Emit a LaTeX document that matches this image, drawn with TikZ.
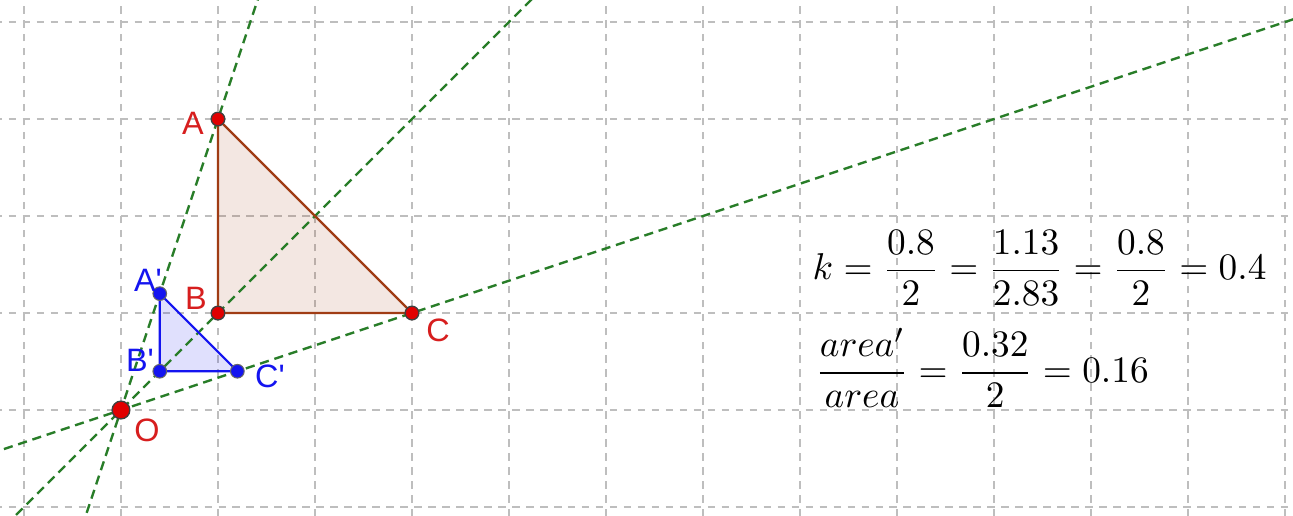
\documentclass[tikz,border=0pt]{standalone}
\usepackage{fontspec}
\usepackage{amsmath}
\usetikzlibrary{calc}
\newfontfamily\labelfont{Liberation Sans}
\definecolor{GridGray}{RGB}{190,190,190}
\definecolor{RayGreen}{RGB}{40,125,40}
\definecolor{PointRed}{RGB}{225,0,0}
\definecolor{LabelRed}{RGB}{215,30,30}
\definecolor{EdgeBrown}{RGB}{160,60,20}
\definecolor{ImageBlue}{RGB}{20,20,240}

\begin{document}
\begin{tikzpicture}[x=1cm,y=1cm,
    gridline/.style={GridGray,line width=0.35pt,dash pattern=on 2.2pt off 1.9pt},
    rayline/.style={RayGreen,line width=0.7pt,dash pattern=on 2.7pt off 1.7pt},
    redpt/.style={circle,fill=PointRed,draw=black!75,line width=0.4pt,inner sep=0pt,minimum size=4pt},
    bluept/.style={circle,fill=ImageBlue,draw=black!60,line width=0.3pt,inner sep=0pt,minimum size=4pt},
    redlbl/.style={text=LabelRed,font=\labelfont\fontsize{9.5}{11}\selectfont,inner sep=0pt},
    bluelbl/.style={text=ImageBlue,font=\labelfont\fontsize{9.5}{11}\selectfont,inner sep=0pt},
    mathtext/.style={anchor=west,inner sep=0pt,font=\fontsize{10.8}{13}\selectfont}]
  \useasboundingbox (-1.247,-1.082) rectangle (12.082,4.227);
  \clip (-1.247,-1.082) rectangle (12.082,4.227);
  \fill[white] (-1.247,-1.082) rectangle (12.082,4.227);
  \draw[gridline] (-1.3,-1.1) grid (12.1,4.3);

  % points
  \coordinate (O) at (0,0);
  \coordinate (A) at (1,3);
  \coordinate (B) at (1,1);
  \coordinate (C) at (3,1);
  \coordinate (A') at (0.4,1.2);
  \coordinate (B') at (0.4,0.4);
  \coordinate (C') at (1.2,0.4);

  % triangles
  \fill[EdgeBrown,fill opacity=0.12] (A) -- (B) -- (C) -- cycle;
  \fill[ImageBlue,fill opacity=0.13] (A') -- (B') -- (C') -- cycle;

  % rays through the centre
  \coordinate (ra1) at ($(O)!-0.5!(A)$);
  \coordinate (ra2) at ($(O)!1.6!(A)$);
  \coordinate (rb1) at ($(O)!-1.3!(B)$);
  \coordinate (rb2) at ($(O)!4.6!(B)$);
  \coordinate (rc1) at ($(O)!-0.5!(C)$);
  \coordinate (rc2) at ($(O)!4.2!(C)$);
  \draw[rayline] (ra1) -- (ra2);
  \draw[rayline] (rb1) -- (rb2);
  \draw[rayline] (rc1) -- (rc2);

  \draw[EdgeBrown,line width=0.65pt] (A) -- (B) -- (C) -- cycle;
  \draw[ImageBlue,line width=0.65pt] (A') -- (B') -- (C') -- cycle;

  \node[redpt] (pA) at (A) {};
  \node[redpt] (pB) at (B) {};
  \node[redpt] (pC) at (C) {};
  \node[redpt,minimum size=5.2pt] (pO) at (O) {};
  \node[bluept] (pA') at (A') {};
  \node[bluept] (pB') at (B') {};
  \node[bluept] (pC') at (C') {};

  % labels
  \node[redlbl] (labA) at (0.742,2.959) {A};
  \node[redlbl] (labB) at (0.773,1.155) {B};
  \node[redlbl] (labC) at (3.268,0.825) {C};
  \node[redlbl] (labO) at (0.268,-0.206) {O};
  \node[bluelbl] (labA') at (0.278,1.340) {A'};
  \node[bluelbl] (labB') at (0.196,0.515) {B'};
  \node[bluelbl] (labC') at (1.536,0.351) {C'};

  % ratio text
  \node[mathtext] (ratio) at (7.124,1.464)
    {$k=\dfrac{0.8}{2}=\dfrac{1.13}{2.83}=\dfrac{0.8}{2}=0.4$};
  \node[mathtext] (area) at (7.155,0.433)
    {$\dfrac{area'}{area}=\dfrac{0.32}{2}=0.16$};
\end{tikzpicture}
\end{document}
